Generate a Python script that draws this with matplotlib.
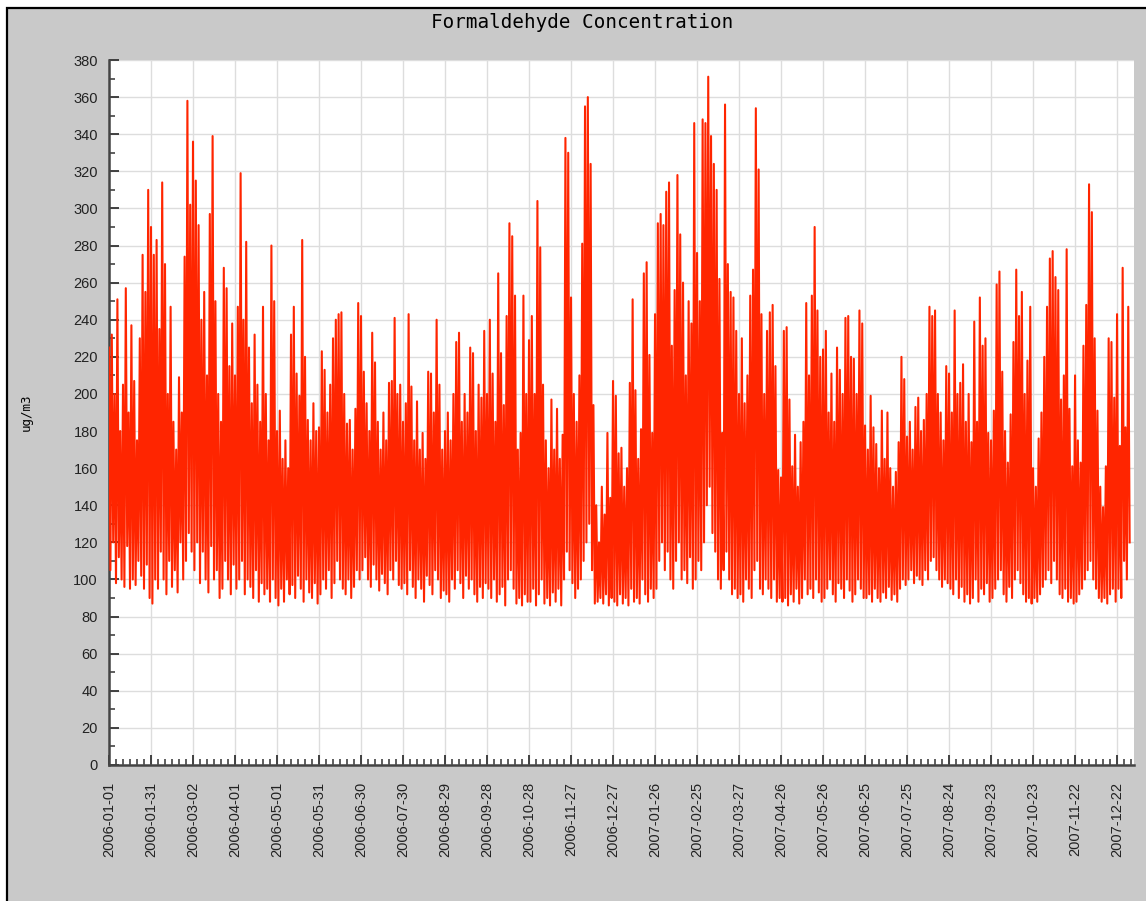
import numpy as np
import pandas as pd
import matplotlib
matplotlib.use("Agg")
import matplotlib.pyplot as plt
from matplotlib.patches import Rectangle
from matplotlib.ticker import MultipleLocator, FixedLocator
import matplotlib.dates as mdates

start_date = "2006-01-01"

# daily readings (ug/m3), alternating day high / night low, one row per 30 days
hcho = [
    225, 105, 232, 120, 200, 98, 251, 112, 180, 100, 205, 96, 257, 118, 190, 95, 237, 100, 207, 97, 175, 110, 230, 102, 275, 95, 255, 108, 310, 90,
    290, 87, 275, 100, 283, 95, 235, 115, 314, 100, 270, 92, 200, 110, 247, 96, 185, 105, 170, 93, 209, 120, 190, 100, 274, 110, 358, 125, 302, 115,
    336, 105, 315, 120, 291, 98, 240, 115, 255, 100, 210, 93, 297, 118, 339, 100, 250, 105, 200, 90, 185, 95, 268, 110, 257, 100, 215, 92, 238, 108,
    210, 95, 247, 100, 319, 110, 240, 92, 282, 100, 225, 96, 195, 90, 232, 105, 205, 88, 185, 98, 247, 92, 200, 95, 175, 88, 280, 100, 250, 90,
    180, 86, 191, 95, 165, 88, 175, 100, 160, 92, 232, 97, 247, 90, 211, 102, 199, 95, 283, 88, 220, 100, 186, 93, 175, 90, 195, 98, 180, 87,
    182, 92, 223, 100, 213, 95, 190, 105, 205, 90, 230, 98, 240, 110, 243, 100, 244, 95, 200, 92, 184, 100, 186, 90, 170, 96, 192, 105, 249, 100,
    242, 105, 212, 112, 195, 100, 180, 96, 233, 108, 217, 100, 185, 94, 170, 103, 190, 98, 175, 92, 206, 105, 207, 100, 241, 110, 200, 97, 205, 95,
    185, 98, 195, 92, 243, 105, 204, 96, 175, 90, 196, 100, 170, 95, 179, 88, 165, 102, 212, 97, 211, 92, 190, 105, 240, 100, 205, 90, 170, 94,
    180, 92, 190, 88, 175, 100, 200, 95, 228, 105, 233, 98, 185, 90, 200, 102, 190, 95, 225, 100, 222, 92, 180, 88, 205, 96, 198, 90, 234, 98,
    200, 95, 240, 90, 211, 100, 185, 88, 265, 92, 222, 96, 194, 86, 242, 100, 292, 105, 285, 95, 253, 87, 170, 90, 179, 86, 253, 92, 200, 88,
    229, 88, 242, 95, 200, 86, 304, 92, 279, 100, 205, 87, 175, 90, 160, 86, 197, 93, 170, 88, 192, 95, 165, 86, 178, 100, 338, 115, 330, 105,
    252, 98, 200, 90, 185, 95, 210, 100, 281, 110, 355, 120, 360, 130, 324, 105, 194, 87, 140, 88, 120, 90, 150, 87, 135, 92, 179, 86, 144, 90,
    207, 88, 199, 86, 168, 92, 171, 87, 150, 90, 160, 86, 206, 95, 251, 88, 202, 90, 165, 87, 181, 100, 265, 92, 271, 88, 221, 95, 179, 90,
    243, 95, 292, 110, 297, 120, 291, 105, 309, 115, 314, 100, 226, 95, 256, 110, 318, 120, 286, 100, 260, 105, 210, 98, 250, 112, 238, 95, 346, 100,
    276, 110, 250, 105, 348, 120, 346, 140, 371, 150, 339, 125, 324, 115, 310, 100, 262, 95, 179, 105, 356, 115, 270, 100, 255, 92, 252, 95, 234, 90,
    200, 92, 230, 88, 195, 100, 210, 95, 253, 90, 267, 105, 354, 110, 321, 95, 243, 92, 200, 100, 234, 95, 244, 90, 248, 100, 215, 88, 159, 90,
    155, 88, 234, 90, 236, 86, 197, 92, 161, 88, 178, 95, 150, 87, 174, 90, 185, 100, 249, 92, 210, 95, 253, 90, 290, 100, 245, 93, 220, 88,
    224, 90, 234, 95, 190, 100, 211, 92, 185, 88, 225, 98, 213, 95, 200, 90, 241, 100, 242, 94, 220, 88, 219, 92, 200, 100, 245, 95, 238, 90,
    183, 90, 170, 92, 199, 88, 182, 95, 173, 90, 160, 88, 191, 93, 165, 90, 190, 96, 160, 89, 150, 92, 158, 88, 174, 95, 220, 100, 208, 97,
    177, 100, 185, 105, 170, 98, 193, 102, 198, 100, 180, 97, 186, 105, 200, 100, 247, 110, 242, 112, 245, 105, 200, 100, 190, 96, 175, 100, 215, 98,
    211, 95, 190, 92, 245, 100, 200, 90, 206, 96, 216, 88, 185, 92, 200, 87, 174, 90, 239, 100, 185, 88, 252, 95, 226, 92, 230, 98, 179, 88,
    175, 90, 191, 95, 259, 100, 266, 105, 212, 92, 180, 88, 163, 96, 189, 90, 228, 100, 267, 105, 242, 98, 255, 92, 200, 88, 218, 90, 247, 87,
    160, 90, 150, 88, 176, 92, 190, 96, 220, 100, 247, 105, 273, 98, 277, 110, 263, 100, 256, 92, 197, 90, 210, 95, 278, 88, 192, 90, 161, 87,
    210, 88, 175, 92, 163, 95, 226, 100, 248, 105, 313, 110, 298, 100, 230, 95, 191, 90, 150, 88, 139, 90, 161, 87, 230, 92, 228, 95, 198, 88,
    243, 95, 172, 90, 268, 110, 182, 100, 247, 120,
]

tick_labels = [
    "2006-01-01", "2006-01-31", "2006-03-02", "2006-04-01", "2006-05-01",
    "2006-05-31", "2006-06-30", "2006-07-30", "2006-08-29", "2006-09-28",
    "2006-10-28", "2006-11-27", "2006-12-27", "2007-01-26", "2007-02-25",
    "2007-03-27", "2007-04-26", "2007-05-26", "2007-06-25", "2007-07-25",
    "2007-08-24", "2007-09-23", "2007-10-23", "2007-11-22", "2007-12-22",
]

W, H = 1146, 901
fig = plt.figure(figsize=(W / 100, H / 100), dpi=100)
fig.patch.set_facecolor("white")

# gray panel with black border (top/left visible)
fig.patches.append(Rectangle((7 / W, -0.1), 1.2, (H - 8) / H + 0.1,
                             transform=fig.transFigure, facecolor="#c9c9c9",
                             edgecolor="black", linewidth=1.6, zorder=-10))

ax = fig.add_axes([109 / W, (H - 765) / H, (1134 - 109) / W, (765 - 60) / H])
ax.set_facecolor("white")

t0 = mdates.date2num(pd.Timestamp(start_date))
x = t0 + np.arange(len(hcho))
ax.plot(x, hcho, color="#ff2500", linewidth=1.5, zorder=3)

ax.set_ylim(0, 380)
ax.set_xlim(t0, t0 + 732.1)

ax.yaxis.set_major_locator(MultipleLocator(20))
ax.yaxis.set_minor_locator(MultipleLocator(10))
major_x = [mdates.date2num(pd.Timestamp(s)) for s in tick_labels]
ax.xaxis.set_major_locator(FixedLocator(major_x))
ax.xaxis.set_minor_locator(FixedLocator(t0 + np.arange(0, 735, 5)))
ax.set_xticklabels(tick_labels, rotation=90, fontsize=10.5,
                   family="Liberation Sans", color="#222222")
for lab in ax.get_yticklabels():
    lab.set_family("Liberation Sans")
ax.tick_params(axis="y", labelsize=10.5, labelcolor="#222222")

ax.tick_params(which="major", direction="in", length=7, width=1.3, color="#333333", pad=8)
ax.tick_params(which="minor", direction="in", length=4, width=1.1, color="#333333")
ax.tick_params(axis="x", which="major", pad=12)

ax.grid(True, which="major", color="#dddddd", linewidth=1.0, zorder=0)
ax.set_axisbelow(True)

for side in ["top", "right"]:
    ax.spines[side].set_visible(False)
for side in ["left", "bottom"]:
    ax.spines[side].set_color("#444444")
    ax.spines[side].set_linewidth(1.8)

fig.text(582 / W, 1 - 23 / H, "Formaldehyde Concentration", ha="center", va="center",
         fontsize=13.9, family="DejaVu Sans Mono", color="black")
fig.text(26 / W, 1 - 412 / H, "ug/m3", ha="center", va="center", rotation=90,
         fontsize=9, family="DejaVu Sans Mono", color="black")

fig.savefig("out.png", dpi=100, facecolor=fig.get_facecolor())
